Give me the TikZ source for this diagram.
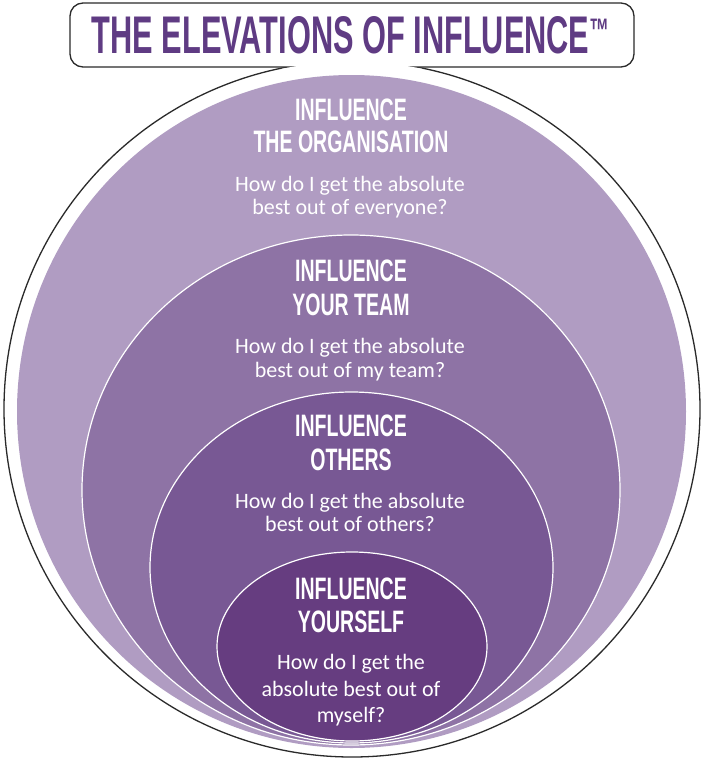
\documentclass[tikz,border=0pt]{standalone}
\usepackage{fontspec}
\setmainfont{Carlito}
\newfontfamily\headfont[FakeStretch=0.63]{Liberation Sans}
\newfontfamily\titlefont[FakeStretch=0.58]{Liberation Sans}
\definecolor{ringA}{HTML}{B09CC2}
\definecolor{ringB}{HTML}{8E73A5}
\definecolor{ringC}{HTML}{785894}
\definecolor{ringD}{HTML}{663D80}
\definecolor{titlepurple}{HTML}{5F3B83}
\definecolor{edgegray}{HTML}{2A2A2A}
\begin{document}
\begin{tikzpicture}[x=1pt,y=-1pt,
  ring/.style={draw=white,line width=1.2pt},
  outline/.style={draw=edgegray,line width=1.3pt},
  head/.style={text=white,font=\headfont\bfseries\fontsize{31}{31}\selectfont,anchor=base,inner sep=0pt},
  ques/.style={text=white,font=\fontsize{22}{22}\selectfont,anchor=base,inner sep=0pt}]
\useasboundingbox[fill=white] (0,0) rectangle (703,761);
% outer black circle
\draw[outline] (352,409) circle[radius=348];
% title box
\draw[outline,fill=white,rounded corners=13pt] (70,3) rectangle (634,67);
\begin{scope}
  \clip (352,409) circle[radius=347.3];
  \fill[white] (70,58) rectangle (634,69);
\end{scope}
% rings
\fill[ringA] (351.5,411.5) ellipse[x radius=334.5,y radius=336.5];
\filldraw[ring,fill=ringB] (351,490) ellipse[x radius=269,y radius=255];
\filldraw[ring,fill=ringC] (351.5,567.5) ellipse[x radius=201.5,y radius=175.5];
\filldraw[ring,fill=ringD] (352,646.5) ellipse[x radius=135,y radius=94.5];
% title
\node[anchor=base,text=titlepurple,inner sep=0pt,
  font=\titlefont\bfseries\fontsize{53}{53}\selectfont] (title) at (350.5,53)
  {THE ELEVATIONS OF INFLUENCE\raisebox{11pt}{\fontsize{34}{34}\selectfont ™}};
% outer ring texts
\node[head] (a1) at (351,120) {INFLUENCE};
\node[head] (a2) at (351,152) {THE ORGANISATION};
\node[ques] (a3) at (350,191) {How do I get the absolute};
\node[ques] (a4) at (350,214) {best out of everyone?};
% second ring
\node[head] (b1) at (351,281) {INFLUENCE};
\node[head] (b2) at (351,315) {YOUR TEAM};
\node[ques] (b3) at (350,353) {How do I get the absolute};
\node[ques] (b4) at (350,377) {best out of my team?};
% third ring
\node[head] (c1) at (351,436) {INFLUENCE};
\node[head] (c2) at (351,470) {OTHERS};
\node[ques] (c3) at (350,508) {How do I get the absolute};
\node[ques] (c4) at (350,531) {best out of others?};
% inner ring
\node[head] (d1) at (351,599) {INFLUENCE};
\node[head] (d2) at (351,632) {YOURSELF};
\node[ques] (d3) at (351,669) {How do I get the};
\node[ques] (d4) at (351,696) {absolute best out of};
\node[ques] (d5) at (351,722) {myself?};
\end{tikzpicture}
\end{document}
